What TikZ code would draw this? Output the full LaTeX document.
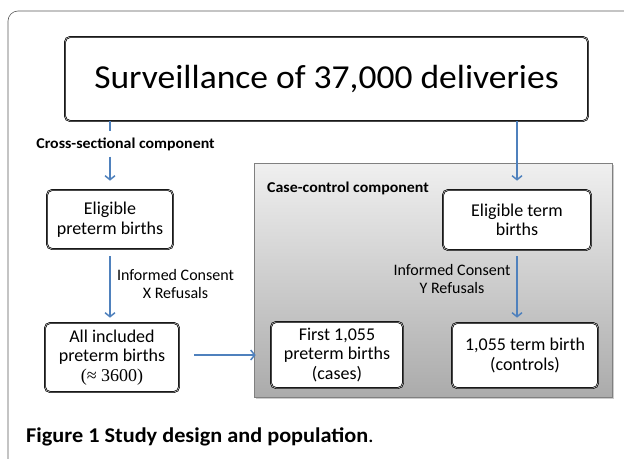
\documentclass[tikz,border=0pt]{standalone}
\usepackage{fontspec}
\setmainfont{Carlito}
\newfontfamily\widefont{Carlito}[FakeStretch=1.06]
\usetikzlibrary{arrows.meta,shadows}

\definecolor{flowblue}{RGB}{79,129,189}

\begin{document}
\begin{tikzpicture}[%
      x=1pt, y=-1pt,
      box/.style={draw=black, double=gray!40, double distance=0.5pt, line width=0.7pt,
        rounded corners=5pt, fill=white, align=center, inner sep=0pt,
        font=\fontsize{18}{19.5}\selectfont},
      flow/.style={color=flowblue, line width=1.5pt, -{Straight Barb[length=4pt,width=10pt]}},
      note/.style={align=center, font=\fontsize{16}{18}\selectfont},
      ]
      \clip (0,0) rectangle (624,458);
      \draw [color=black!65, line width=0.6pt, rounded corners=10pt] (8,470) -- (8,11) -- (640,11);

      % case-control panel
      \draw [color=gray, line width=0.6pt, top color=black!6, bottom color=black!33,
        drop shadow={shadow xshift=2pt, shadow yshift=-2pt, opacity=0.4}]
        (254,163) rectangle (612,397);
      \node [anchor=west, inner sep=0pt, font=\widefont\bfseries\fontsize{15}{17}\selectfont] (cc) at (267,188)
        {Case-control component};

      \node [box, minimum width=523, minimum height=84, font=\widefont\fontsize{33.5}{38}\selectfont] (top) at (326.5,79)
        {Surveillance of 37,000 deliveries};

      \node [box, minimum width=126, minimum height=59] (pre) at (110,219.5) {Eligible\\preterm births};
      \node [box, minimum width=148, minimum height=60] (term) at (517,220) {Eligible term\\births};
      \node [box, minimum width=134, minimum height=69] (all) at (112,357.5)
        {All included\\preterm births\\{\fontspec{Liberation Serif}(≈ 3600)}};
      \node [box, minimum width=132, minimum height=66] (cases) at (337,355) {First 1,055\\preterm births\\(cases)};
      \node [box, minimum width=146, minimum height=65] (ctrl) at (525,355.5) {1,055 term birth\\(controls)};

      \node [font=\widefont\bfseries\fontsize{15}{17}\selectfont, inner sep=0pt] (cross) at (125.5,144)
        {Cross-sectional component};
      \node [note] (cons1) at (175.5,284) {Informed Consent\\X Refusals};
      \node [note] (cons2) at (452,279) {Informed Consent\\Y Refusals};

      \draw [color=flowblue, line width=1.5pt] (top.south -| pre.north) -- ++(0,10);
      \draw [flow, shorten <=6pt, shorten >=9pt] (cross.south -| pre.north) -- (pre.north);
      \draw [flow, shorten >=9pt] (top.south -| term.north) -- (term.north);
      \draw [flow, shorten <=7pt, shorten >=5pt] (pre.south) -- (pre.south |- all.north);
      \draw [flow, shorten <=6pt, shorten >=5pt] (term.south) -- (term.south |- ctrl.north);
      \draw [flow, shorten <=15pt, shorten >=15pt] (all.east |- cases.west) -- (cases.west);

      \node [anchor=west, inner sep=0pt, font=\widefont\fontsize{21}{24}\selectfont] (caption) at (26,437)
        {\textbf{Figure 1 Study design and population}.};
\end{tikzpicture}
\end{document}
